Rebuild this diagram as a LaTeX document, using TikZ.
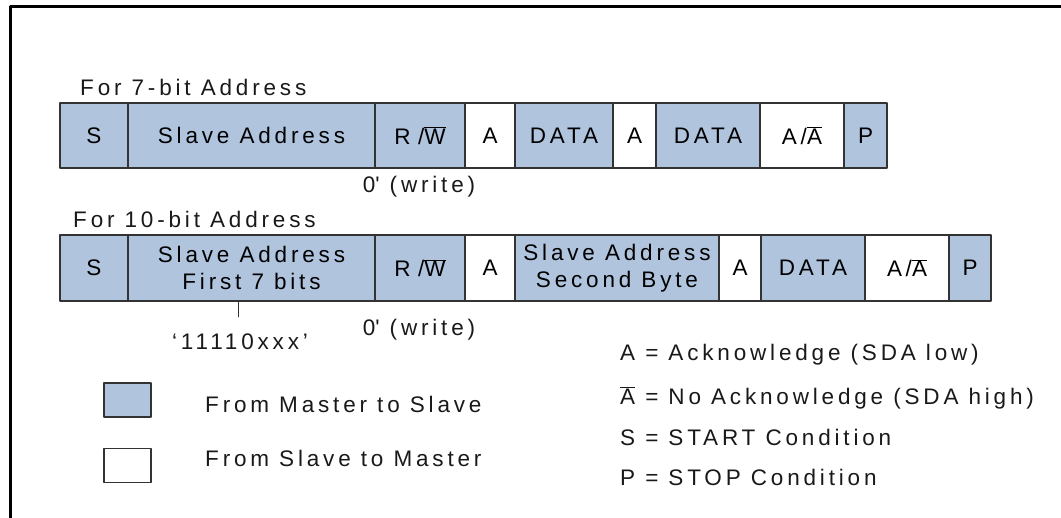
\documentclass[tikz,border=0pt]{standalone}
\usepackage{fontspec}
\setmainfont{Liberation Sans}[LetterSpace=17]
\definecolor{mblue}{RGB}{176,196,222}
\newcommand{\rwbar}{R\,\,/$\overline{\mbox{W}}$}
\newcommand{\anack}{A\,/$\overline{\mbox{A}}$}
\newcommand{\abar}{$\overline{\mbox{A}}$}

\begin{document}
\begin{tikzpicture}[x=1pt,y=1pt,line cap=round,line join=round,
  cell/.style={draw=black!80,line width=1.3pt,inner sep=0pt,align=center,
    font=\fontsize{22.5}{27}\selectfont},
  master/.style={fill=mblue},
  slave/.style={fill=white},
  lbl/.style={font=\fontsize{22.5}{27}\selectfont,inner sep=0pt,text=black!90}]
\useasboundingbox (0,0) rectangle (1061,518);
\draw[line width=2.5pt] (1061,511.5) -| (10.5,0);

% 7-bit address frame: S, address, R/W, then data bytes.
\node[lbl,anchor=west] (t7) at (80,431) {For 7-bit Address};
\foreach \nm/\xa/\xb/\fl/\txt in {s7/60/128/master/S,ad7/128/375/master/Slave Address,
  rw7/375/465/master/\rwbar,ak7/465/515/slave/A,da7/515/613/master/DATA,
  ab7/613/656/slave/A,db7/656/760/master/DATA,an7/760/844/slave/\anack,
  p7/844/887/master/P}
{
  \pgfmathsetmacro{\cx}{(\xa+\xb)/2}
  \pgfmathsetmacro{\cw}{\xb-\xa}
  \node[cell,\fl,minimum width=\cw pt,minimum height=65pt] (\nm) at (\cx,382.5) {\txt};
}
\node[lbl] (w7) at (419,331) {0\textquotesingle\ (write)};

% 10-bit address frame: two address bytes before the data.
\node[lbl,anchor=west] (t10) at (73,299) {For 10-bit Address};
\foreach \nm/\xa/\xb/\fl/\txt in {s10/60/128/master/S,
  ad10/128/375/master/{Slave Address\\First 7 bits},
  rw10/375/465/master/\rwbar,ak10/465/515/slave/A,
  sb10/515/719/master/{Slave Address\\Second Byte},ab10/719/761/slave/A,
  da10/761/865/master/DATA,an10/865/949/slave/\anack,p10/949/991/master/P}
{
  \pgfmathsetmacro{\cx}{(\xa+\xb)/2}
  \pgfmathsetmacro{\cw}{\xb-\xa}
  \node[cell,\fl,minimum width=\cw pt,minimum height=66pt] (\nm) at (\cx,250) {\txt};
}
\node[lbl] (w10) at (419,188) {0\textquotesingle\ (write)};
\coordinate (tk) at (238,201);
\draw[line width=1pt,black!80] (tk |- ad10.south) -- (tk);
\node[lbl] (code) at (240,176) {`11110xxx'};

% Legend: direction of each field and the symbols.
\node[cell,master,minimum width=47pt,minimum height=34pt] (lm) at (127.5,118) {};
\node[cell,slave,minimum width=47pt,minimum height=34pt] (ls) at (127.5,52.5) {};
\node[lbl,anchor=west] (lmt) at (205,114) {From Master to Slave};
\node[lbl,anchor=west] (lst) at (205,60) {From Slave to Master};
\node[lbl,anchor=west] (ka) at (620,163) {A = Acknowledge (SDA low)};
\node[lbl,anchor=west] (kn) at (620,120) {\abar\ = No Acknowledge (SDA high)};
\node[lbl,anchor=west] (ks) at (620,81) {S = START Condition};
\node[lbl,anchor=west] (kp) at (620,41) {P = STOP Condition};
\end{tikzpicture}
\end{document}
